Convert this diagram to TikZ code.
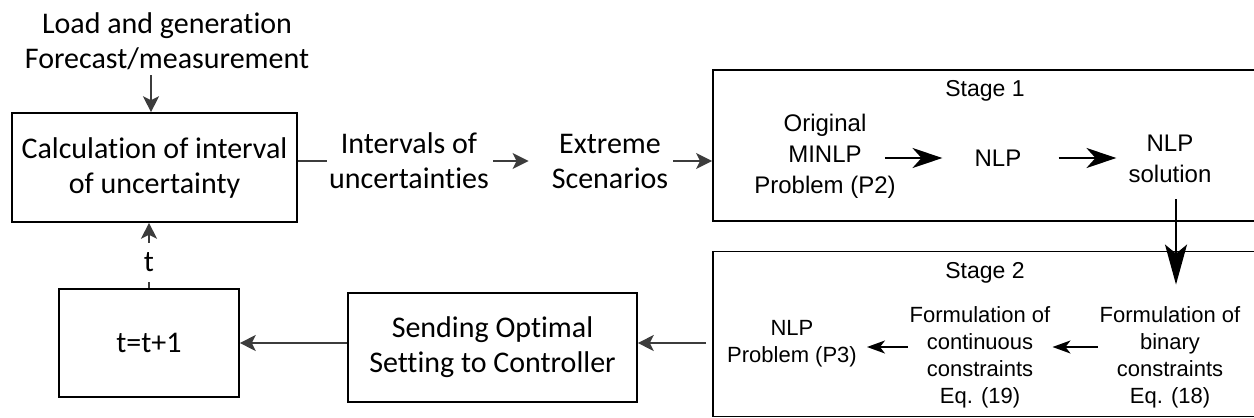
\documentclass[tikz,border=0pt]{standalone}
\usepackage{fontspec}
\setmainfont{Carlito}[Ligatures={NoCommon,NoContextual}]
\newfontfamily\arifont{Liberation Sans}
\usetikzlibrary{arrows.meta,calc}
\definecolor{darkgr}{HTML}{3C3C3C}
\tikzset{
  calt/.style={font=\fontsize{30}{35}\selectfont, align=center, inner sep=2pt},
  arilab/.style={font=\arifont\fontsize{23}{28}\selectfont, align=center, inner sep=2pt},
  arit/.style={font=\arifont\fontsize{24}{31}\selectfont, align=center, inner sep=2pt},
  arit2/.style={font=\arifont\fontsize{22}{27}\selectfont, align=center, inner sep=2pt},
  leftbox/.style={draw=black, line width=1.6pt, calt},
  stagebox/.style={draw=black, line width=1.8pt, inner sep=0pt},
  garrow/.style={draw=darkgr, line width=1.8pt, -{Stealth[length=16pt,width=16pt,inset=4pt]}},
  gline/.style={draw=darkgr, line width=1.8pt},
  barrowA/.style={draw=black, line width=1.8pt, -{Stealth[length=30pt,width=20pt,inset=9pt]}},
  barrowB/.style={draw=black, line width=1.5pt, -{Stealth[length=18pt,width=13pt,inset=5pt]}},
  barrowV/.style={draw=black, line width=1.8pt, -{Stealth[length=40pt,width=22pt,inset=9pt]}},
}
\begin{document}
\begin{tikzpicture}[x=1pt,y=-1pt]
\useasboundingbox (0,0) rectangle (1254,418);
\clip (0,0) rectangle (1254,418);
% left part
\node[calt] (load) at (167,41) {Load and generation\\Forecast/measurement};
\coordinate (ldin) at (151,75);
\node[leftbox, minimum width=285pt, minimum height=109pt] (calc) at (154.5,167.5) {Calculation of interval\\of uncertainty};
\node[calt] (intv) at (409,161) {Intervals of\\uncertainties};
\node[calt] (extr) at (610,161) {Extreme\\Scenarios};
\node[leftbox, minimum width=289pt, minimum height=109pt] (send) at (492.5,347.5) {Sending Optimal\\Setting to Controller};
\node[leftbox, minimum width=180pt, minimum height=108pt] (tpp) at (149,343) {t=t+1};
% stage 1
\node[stagebox, minimum width=549pt, minimum height=151pt] (st1) at (987.5,145.5) {};
\node[arilab] (st1lab) at (985,91) {Stage 1};
\node[arit] (orig) at (825,156) {Original\\MINLP\\Problem (P2)};
\node[arit] (nlp) at (998,158) {NLP};
\node[arit] (nlps) at (1170,159) {NLP\\solution};
% stage 2
\node[stagebox, minimum width=549pt, minimum height=165pt] (st2) at (987.5,334) {};
\node[arilab] (st2lab) at (985,273) {Stage 2};
\node[arit2] (p3) at (792,344) {NLP\\Problem (P3)};
\node[arit2] (contf) at (980,357.5) {Formulation of\\continuous\\constraints\\Eq. (19)};
\node[arit2] (binf) at (1170,357.5) {Formulation of\\binary\\constraints\\Eq. (18)};
% connectors
\draw[garrow] (ldin) -- (ldin |- calc.north);
\draw[gline] (calc.east |- intv.west) -- (intv.west);
\draw[garrow, shorten <=2pt, shorten >=21pt] (intv.east) -- (extr.west);
\draw[garrow, shorten <=3pt] (extr.east) -- (st1.west |- extr.east);
\draw[barrowA, shorten <=-13pt, shorten >=30pt] (orig.east |- nlp.west) -- (nlp.west);
\draw[barrowA, shorten <=35pt, shorten >=10pt] (nlp.east) -- (nlp.east -| nlps.west);
\draw[barrowV, shorten <=14pt, shorten >=20pt] ([xshift=6pt]nlps.south) -- ([xshift=6pt]binf.north);
\draw[barrowB] ([yshift=10.5pt]binf.west) -- ([yshift=10.5pt]contf.east);
\draw[barrowB, shorten >=8pt] ([yshift=10.5pt]contf.west) -- ([yshift=10.5pt]contf.west -| p3.east);
\draw[garrow, shorten <=6pt] ([yshift=-9pt]st2.west) -- ([yshift=-9pt]st2.west -| send.east);
\draw[garrow] (send.west |- tpp.east) -- (tpp.east);
\draw[garrow] (tpp.north) -- (tpp.north |- calc.south) node[pos=0.4, fill=white, minimum height=39pt, minimum width=14pt, inner sep=0pt, calt] (tlab) {t};
\end{tikzpicture}
\end{document}
